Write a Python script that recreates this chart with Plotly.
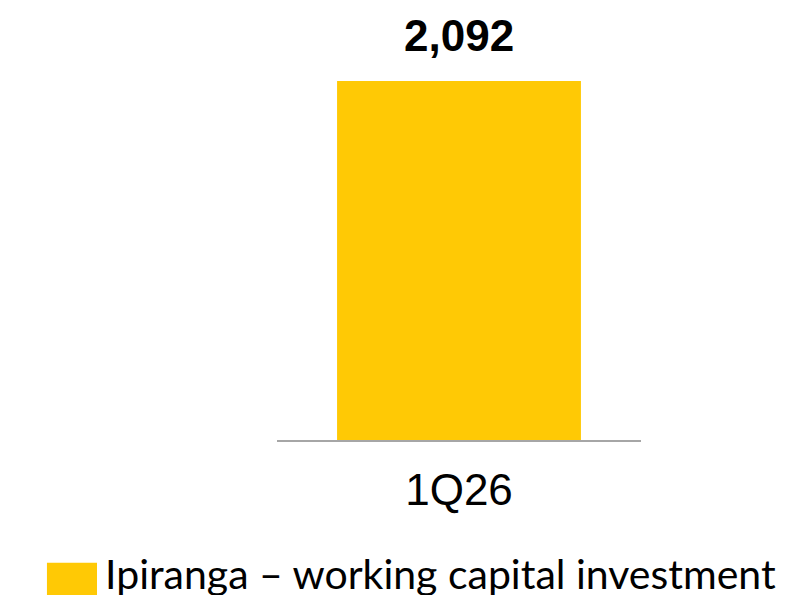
import plotly.graph_objects as go

categories = ["1Q26"]
values = [2092]
value_labels = ["2,092"]
series_name = "Ipiranga – working capital investment"

BAR_COLOR = "#FFC905"

fig = go.Figure()
fig.add_trace(go.Bar(
    x=categories, y=values, marker_color=BAR_COLOR, marker_line_width=0,
    name=series_name, showlegend=False,
))

for c, v, lab in zip(categories, values, value_labels):
    fig.add_annotation(x=c, y=v, text="<b>" + lab + "</b>", showarrow=False,
                       yanchor="bottom", yshift=19,
                       font=dict(family="Liberation Sans, Arial", size=44, color="#000000"))

# legend drawn manually (large swatch)
fig.add_shape(type="rect", xref="paper", yref="paper",
              x0=-0.632, x1=-0.4945, y0=-0.47, y1=-0.342,
              fillcolor=BAR_COLOR, line_width=0)
fig.add_annotation(xref="paper", yref="paper", x=-0.477, y=-0.372,
                   xanchor="left", yanchor="middle", showarrow=False,
                   text=series_name,
                   font=dict(family="Lato", size=41, color="#000000"))

fig.update_layout(
    width=786, height=595,
    margin=dict(l=269, r=153, t=73, b=163),
    paper_bgcolor="white", plot_bgcolor="white",
    bargap=0.33,
    xaxis=dict(showline=True, linecolor="#A6A6A6", linewidth=2,
               ticks="outside", ticklen=10, tickcolor="rgba(0,0,0,0)",
               tickfont=dict(family="Liberation Sans, Arial", size=44, color="#000000"),
               showgrid=False, zeroline=False),
    yaxis=dict(range=[0, 2092], visible=False, showgrid=False, zeroline=False),
)

fig.write_html("out.html")
